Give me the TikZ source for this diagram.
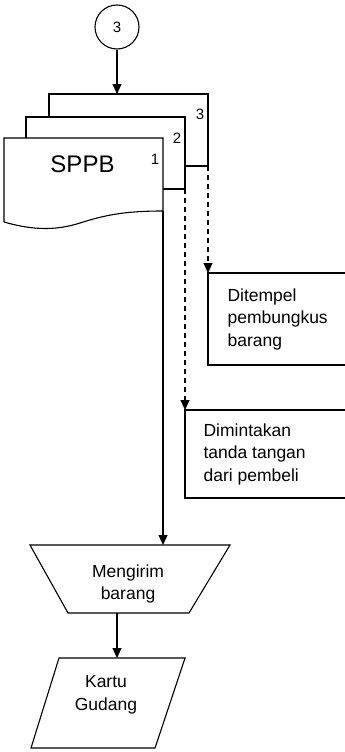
\documentclass[tikz,border=0pt]{standalone}
\usepackage{fontspec}
\setmainfont{Liberation Sans}
\usetikzlibrary{arrows.meta,shapes.geometric}
\begin{document}
\begin{tikzpicture}[x=1pt,y=-1pt,
  line width=1.1pt,
  arr/.style={-{Triangle[length=10pt,width=9pt]}},
  dsh/.style={arr,dashed,dash pattern=on 5pt off 4pt},
  txt/.style={font=\fontsize{17.5}{22.5}\selectfont,align=left,inner sep=0pt},
  ctxt/.style={font=\fontsize{17.5}{22.5}\selectfont,align=center,inner sep=0pt},
  lbl/.style={font=\fontsize{15}{17}\selectfont,inner sep=0pt}]
\useasboundingbox (0,0) rectangle (345,752);
\clip (0,0) rectangle (345,752);
% connector circle
\node[circle,draw,minimum size=44pt,inner sep=0pt,font=\fontsize{15}{17}\selectfont] (c3) at (117,27) {3};
\coordinate (d3top) at (117,94);
\draw[arr] (c3.south) -- (d3top);
% documents
\draw[fill=white] (49,117) -- (49,94) -- (208,94) -- (208,166) -- (186,166);
\draw[fill=white] (26,138) -- (26,117) -- (185,117) -- (185,189) -- (163,189);
\draw[fill=white] (4,222) -- (4,138) -- (163,138) -- (163,211)
   .. controls (125,211) and (105,215) .. (80,223)
   .. controls (58,230) and (35,231) .. (4,222);
\node[font=\fontsize{24}{26}\selectfont,inner sep=0pt,anchor=base] (sppb) at (82.5,172) {SPPB};
\node[lbl,anchor=base] (n1) at (155,164) {1};
\node[lbl,anchor=base] (n2) at (177,143) {2};
\node[lbl,anchor=base] (n3) at (200,119) {3};
\coordinate (o1) at (163,211);
\coordinate (o2) at (185,189);
\coordinate (o3) at (208,166);
% side boxes
\coordinate (b1) at (208,273);
\coordinate (b2) at (185,410);
\draw (360,273) -- (b1) -- (208,365) -- (360,365);
\draw (360,410) -- (b2) -- (185,498) -- (360,498);
\node[txt,anchor=north west] (t1) at (227,288) {Ditempel\\pembungkus\\barang};
\node[txt,anchor=north west] (t2) at (203,423) {Dimintakan\\tanda tangan\\dari pembeli};
\draw[dsh] (o3) -- (b1);
\draw[dsh] (o2) -- (b2);
% trapezoid (manual operation)
\draw (30,545) -- (230,545) -- (189,613) -- (68,613) -- cycle;
\coordinate (trtop) at (163,545);
\coordinate (trbot) at (117,613);
\node[ctxt,anchor=north] (tm) at (128,564) {Mengirim\\barang};
\draw[arr] (o1) -- (trtop);
% parallelogram
\draw (59,658) -- (185,658) -- (155,748) -- (31,748) -- cycle;
\coordinate (pgtop) at (117,658);
\node[ctxt,anchor=north] (tk) at (106,675) {Kartu\\Gudang};
\draw[arr] (trbot) -- (pgtop);
\end{tikzpicture}
\end{document}
